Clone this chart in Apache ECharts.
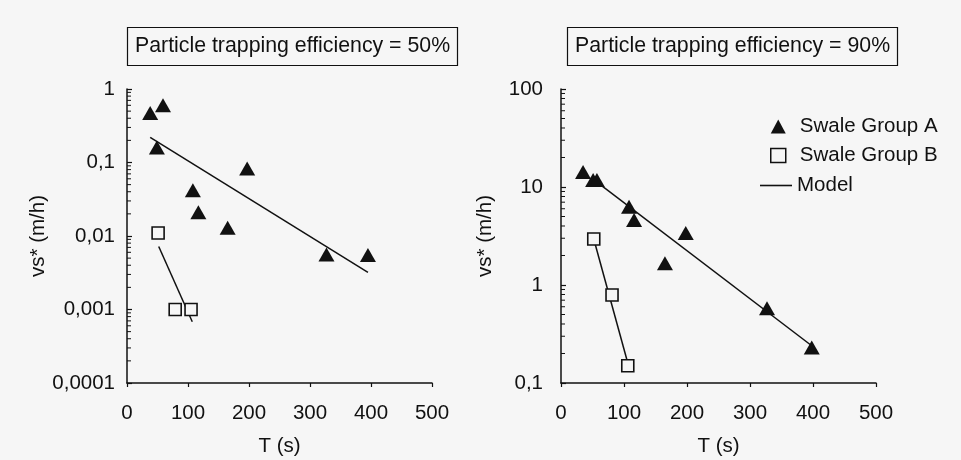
<!DOCTYPE html>
<html>
<head>
<meta charset="utf-8">
<script src="https://cdn.jsdelivr.net/npm/echarts@6/dist/echarts.min.js"></script>
<style>html,body{margin:0;padding:0;background:#f6f6f6}#c{width:961px;height:460px}</style>
</head>
<body>
<div id="c"></div>
<script>
// ---- data ----
var titles = ['Particle trapping efficiency = 50%', 'Particle trapping efficiency = 90%'];
var leftGroupA = [[38, 0.47], [59, 0.6], [49, 0.16], [108, 0.042], [117, 0.021], [197, 0.083], [165, 0.013], [327, 0.0056], [395, 0.0055]];
var leftGroupB = [[51, 0.011], [79, 0.001], [105, 0.001]];
var leftModelA = [[38, 0.22], [395, 0.0032]];
var leftModelB = [[52, 0.0072], [107, 0.00068]];
var rightGroupA = [[35, 14.2], [51, 11.8], [57, 11.8], [108, 6.3], [116, 4.6], [198, 3.4], [165, 1.67], [327, 0.58], [398, 0.23]];
var rightGroupB = [[52, 2.95], [81, 0.79], [106, 0.15]];
var rightModelA = [[55, 11.5], [398, 0.24]];
var rightModelB = [[52, 2.95], [106, 0.16]];
var xTicks = [0, 100, 200, 300, 400, 500];
var leftYRange = [0.0001, 1];
var rightYRange = [0.1, 100];
var legendNames = ['Swale Group A', 'Swale Group B', 'Model'];

// minor tick positions (axis decoration: 2..9 within each decade)
function minorTicks(range) {
  var out = [];
  for (var d = range[0]; d < range[1] * 0.999; d *= 10) {
    for (var k = 2; k <= 9; k++) out.push([0, +(k * d).toPrecision(3)]);
  }
  return out;
}

var ink = '#111111';
var bg = '#f6f6f6';
var font = 'Liberation Sans, Arial, sans-serif';
function fmt(v) { return String(+v.toPrecision(6)).replace('.', ','); }

function xAxis(gi) {
  return {
    type: 'value', gridIndex: gi, min: xTicks[0], max: xTicks[xTicks.length - 1], interval: xTicks[1] - xTicks[0],
    name: 'T (s)', nameLocation: 'middle', nameGap: 53,
    nameTextStyle: { color: ink, fontSize: 20.5, fontFamily: font },
    axisLine: { lineStyle: { color: ink, width: 1.5 } },
    axisTick: { show: true, length: 4, lineStyle: { color: ink, width: 1.2 } },
    axisLabel: { color: ink, fontSize: 20.5, fontFamily: font, margin: 20 },
    splitLine: { show: false }
  };
}
function yAxis(gi, range, gap, margin) {
  return {
    type: 'log', logBase: 10, gridIndex: gi, min: range[0], max: range[1],
    name: 'vs* (m/h)', nameLocation: 'middle', nameGap: gap, nameRotate: 90,
    nameTextStyle: { color: ink, fontSize: 20.5, fontFamily: font },
    axisLine: { show: true, lineStyle: { color: ink, width: 1.5 } },
    axisTick: { show: true, inside: true, length: 5, lineStyle: { color: ink, width: 1.2 } },
    axisLabel: { color: ink, fontSize: 20.5, fontFamily: font, margin: margin, formatter: fmt },
    splitLine: { show: false }
  };
}
function scatterA(name, data, xi) {
  return { name: name, type: 'scatter', xAxisIndex: xi, yAxisIndex: xi, data: data,
    symbol: 'triangle', symbolSize: [16, 14], itemStyle: { color: ink, opacity: 1 } };
}
function scatterB(name, data, xi) {
  return { name: name, type: 'scatter', xAxisIndex: xi, yAxisIndex: xi, data: data,
    symbol: 'rect', symbolSize: 12, itemStyle: { color: bg, borderColor: ink, borderWidth: 1.6, opacity: 1 } };
}
function model(data, xi) {
  return { name: 'Model', type: 'line', xAxisIndex: xi, yAxisIndex: xi, data: data,
    symbol: 'none', itemStyle: { color: ink }, lineStyle: { color: ink, width: 1.5 }, z: 1 };
}
function minor(range, xi) {
  return { type: 'custom', xAxisIndex: xi, yAxisIndex: xi, silent: true, data: minorTicks(range),
    renderItem: function (params, api) {
      var p = api.coord([0, api.value(1)]);
      return { type: 'line', shape: { x1: p[0], y1: p[1], x2: p[0] + 4, y2: p[1] },
        style: { stroke: ink, lineWidth: 1 } };
    } };
}

var chart = echarts.init(document.getElementById('c'));
chart.setOption({
  backgroundColor: bg,
  animation: false,
  title: [
    { text: titles[0], left: 127, top: 27, padding: [9, 8, 9, 8], borderColor: ink, borderWidth: 1.2,
      textStyle: { color: ink, fontSize: 21.3, fontWeight: 'normal', fontFamily: font } },
    { text: titles[1], left: 567, top: 27, padding: [9, 8, 9, 8], borderColor: ink, borderWidth: 1.2,
      textStyle: { color: ink, fontSize: 21.3, fontWeight: 'normal', fontFamily: font } }
  ],
  legend: [
    {
      orient: 'vertical', left: 770, top: 116, padding: 0, itemWidth: 15, itemHeight: 14, itemGap: 8,
      textStyle: { color: ink, fontSize: 20.5, fontFamily: font, padding: [0, 0, 0, 9] },
      data: [
        { name: legendNames[0], icon: 'triangle', itemStyle: { color: ink } },
        { name: legendNames[1], icon: 'rect', itemStyle: { color: bg, borderColor: ink, borderWidth: 1.5 } }
      ]
    },
    {
      orient: 'vertical', left: 760, top: 175, padding: 0, itemWidth: 32, itemHeight: 1.6,
      textStyle: { color: ink, fontSize: 20.5, fontFamily: font },
      data: [{ name: legendNames[2], icon: 'rect', itemStyle: { color: ink } }]
    }
  ],
  grid: [
    { left: 127, top: 89, width: 305, height: 294, outerBoundsMode: 'none', containLabel: false },
    { left: 561, top: 89, width: 315, height: 294, outerBoundsMode: 'none', containLabel: false }
  ],
  xAxis: [xAxis(0), xAxis(1)],
  yAxis: [yAxis(0, leftYRange, 77, 12), yAxis(1, rightYRange, 65, 18)],
  series: [
    minor(leftYRange, 0), minor(rightYRange, 1),
    model(leftModelA, 0), model(leftModelB, 0),
    model(rightModelA, 1), model(rightModelB, 1),
    scatterA(legendNames[0], leftGroupA, 0), scatterB(legendNames[1], leftGroupB, 0),
    scatterA(legendNames[0], rightGroupA, 1), scatterB(legendNames[1], rightGroupB, 1)
  ]
});
</script>
</body>
</html>
